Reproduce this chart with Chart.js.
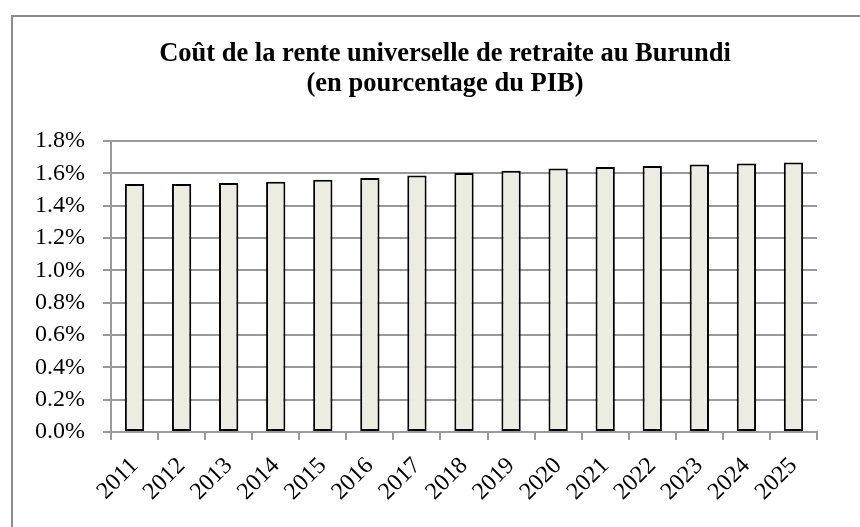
<!DOCTYPE html>
<html>
<head>
<meta charset="utf-8">
<script src="https://cdn.jsdelivr.net/npm/chart.js@4"></script>
<style>
    html, body { margin: 0; padding: 0; background: #fff; overflow: hidden; }
    #box {
        position: absolute; left: 11px; top: 15px;
        border-left: 2px solid #8c8c8c; border-top: 2px solid #8c8c8c;
    }
    canvas { display: block; }
</style>
</head>
<body>
<div id="box"><canvas id="chart" width="864" height="540"></canvas></div>
<script>
const years = ["2011", "2012", "2013", "2014", "2015", "2016", "2017", "2018",
               "2019", "2020", "2021", "2022", "2023", "2024", "2025"];
const costPct = [1.534, 1.534, 1.540, 1.548, 1.559, 1.571, 1.586, 1.602,
                 1.616, 1.629, 1.639, 1.645, 1.654, 1.660, 1.666];
const titleLines = ["Coût de la rente universelle de retraite au Burundi", "(en pourcentage du PIB)"];

const serif = "'Liberation Serif', 'Times New Roman', serif";
const gridGray = "#999999";

new Chart(document.getElementById("chart"), {
    type: "bar",
    data: {
        labels: years,
        datasets: [{
            data: costPct,
            backgroundColor: "#eeebe0",
            borderColor: "#000000",
            borderWidth: 2,
            borderSkipped: false,
            barPercentage: 0.41,
            categoryPercentage: 1,
        }],
    },
    options: {
        responsive: false,
        animation: false,
        devicePixelRatio: 1,
        plugins: {
            legend: { display: false },
            tooltip: { enabled: false },
            title: {
                display: true,
                text: titleLines,
                color: "#000",
                font: { family: serif, size: 26.5, weight: "bold", lineHeight: 1.13 },
                padding: { top: 22, bottom: 42 },
            },
        },
        scales: {
            x: {
                offset: true,
                grid: { offset: true, drawOnChartArea: false, drawTicks: true, tickLength: 8, color: gridGray, lineWidth: 2 },
                border: { color: gridGray, width: 2 },
                ticks: {
                    color: "#000",
                    font: { family: serif, size: 24 },
                    minRotation: 45,
                    maxRotation: 45,
                    padding: 12,
                },
                afterFit: (scale) => { scale.height = 125; },
            },
            y: {
                min: 0,
                max: 1.8,
                grid: { color: gridGray, lineWidth: 2, tickLength: 8 },
                border: { color: gridGray, width: 2 },
                ticks: {
                    stepSize: 0.2,
                    color: "#000",
                    font: { family: serif, size: 24 },
                    padding: 18,
                    callback: (v) => v.toFixed(1) + "%",
                },
                afterFit: (scale) => { scale.width = 98; },
            },
            // empty right-hand space so the title stays centred on the whole frame
            spacer: {
                position: "right",
                grid: { display: false },
                border: { display: false },
                ticks: { display: false },
                afterFit: (scale) => { scale.width = 60; },
            },
        },
    },
});
</script>
</body>
</html>
